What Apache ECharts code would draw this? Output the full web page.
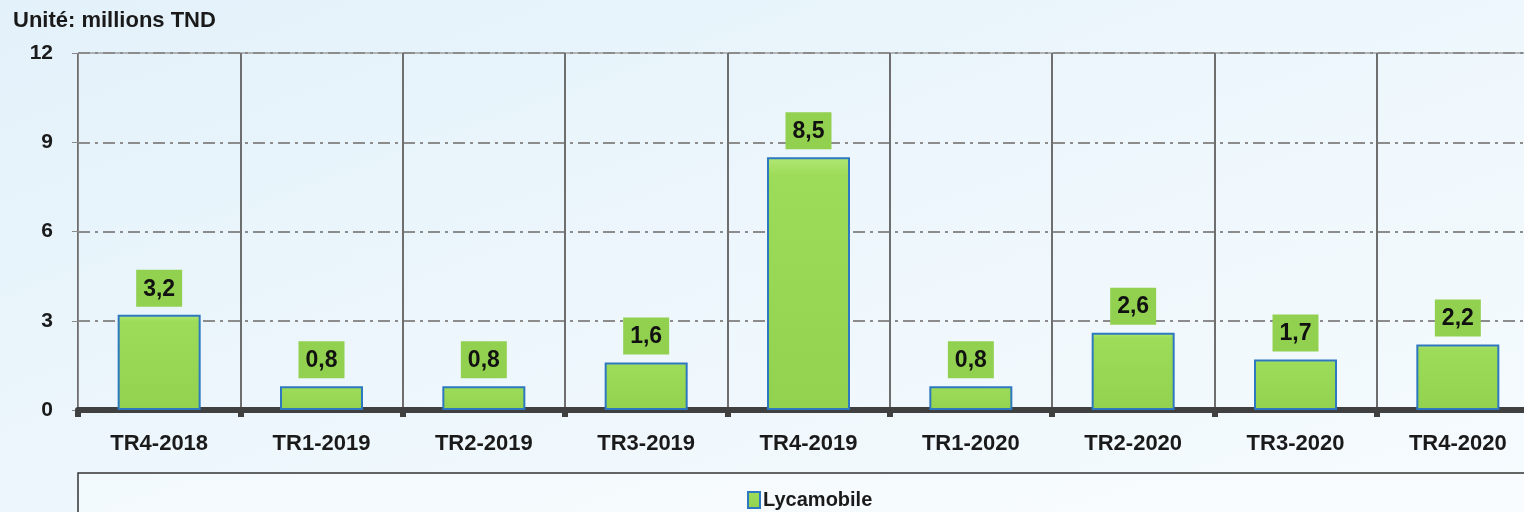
<!DOCTYPE html>
<html>
<head>
<meta charset="utf-8">
<script src="https://cdn.jsdelivr.net/npm/echarts@6/dist/echarts.min.js"></script>
<style>
  html, body { margin: 0; padding: 0; }
  #chart { width: 1524px; height: 512px; background: linear-gradient(160deg, #e3f1fa 0%, #eef7fc 55%, #f6fbfe 100%); }
</style>
</head>
<body>
<div id="chart"></div>
<script>
const categories = ["TR4-2018", "TR1-2019", "TR2-2019", "TR3-2019", "TR4-2019", "TR1-2020", "TR2-2020", "TR3-2020", "TR4-2020"];
const lycamobile = [3.2, 0.8, 0.8, 1.6, 8.5, 0.8, 2.6, 1.7, 2.2];
const seriesName = "Lycamobile";
const unitLabel = "Unité: millions TND";

const font = "'Liberation Sans', 'DejaVu Sans', sans-serif";
const chart = echarts.init(document.getElementById("chart"));

chart.setOption({
  backgroundColor: "transparent",
  textStyle: { fontFamily: font },
  title: {
    text: unitLabel,
    left: 8,
    top: 5,
    textStyle: { fontSize: 22, fontWeight: "bold", color: "#1a1a1a", fontFamily: font },
  },
  graphic: [
    {
      type: "rect",
      shape: { x: 78, y: 473, width: 1460, height: 60 },
      style: { fill: "rgba(255,255,255,0.35)", stroke: "#333", lineWidth: 1.5 },
      z: 0,
    },
  ],
  legend: {
    data: [{ name: seriesName, icon: "rect" }],
    left: 742,
    top: 485,
    itemWidth: 12,
    itemHeight: 16,
    itemGap: 4,
    itemStyle: { borderColor: "#2e78c0", borderWidth: 2 },
    textStyle: { fontSize: 20, fontWeight: "bold", color: "#1a1a1a", fontFamily: font, padding: [0, 0, 0, -2] },
  },
  grid: {
    left: 78,
    top: 53,
    width: 1461,
    bottom: 102,
    outerBoundsMode: "none",
    show: true,
    borderColor: "#777",
    borderWidth: 1,
    containLabel: false,
  },
  xAxis: {
    type: "category",
    data: categories,
    axisLine: { lineStyle: { color: "#404040", width: 6 } },
    axisTick: { show: true, length: 7, lineStyle: { color: "#404040", width: 6 } },
    axisLabel: { fontSize: 22, fontWeight: "bold", color: "#1a1a1a", margin: 23, fontFamily: font },
    splitLine: { show: true, lineStyle: { color: "#6e6e6e", width: 2 } },
  },
  yAxis: {
    type: "value",
    min: 0,
    max: 12,
    interval: 3,
    axisLine: { show: true, lineStyle: { color: "#8a8a8a", width: 1 } },
    axisTick: { show: true, length: 6, lineStyle: { color: "#8a8a8a" } },
    axisLabel: { fontSize: 21, fontWeight: "bold", color: "#1a1a1a", margin: 25, fontFamily: font },
    splitLine: { show: true, lineStyle: { color: "#8c8c8c", width: 2, type: [12, 5, 3, 5] } },
  },
  series: [
    {
      name: seriesName,
      type: "bar",
      data: lycamobile,
      barWidth: 83,
      z: 3,
      itemStyle: {
        color: new echarts.graphic.LinearGradient(0, 0, 0, 1, [
          { offset: 0, color: "#b2e876" },
          { offset: 0.07, color: "#9ddc59" },
          { offset: 1, color: "#93d24e" },
        ]),
        borderColor: "#2e78c0",
        borderWidth: 2,
      },
      label: {
        show: true,
        position: "top",
        distance: 8,
        formatter: (p) => String(p.value).replace(".", ","),
        backgroundColor: "#92d050",
        padding: [8, 7, 6, 7],
        fontSize: 23,
        fontWeight: "bold",
        color: "#111",
        fontFamily: font,
      },
    },
  ],
});
</script>
</body>
</html>
